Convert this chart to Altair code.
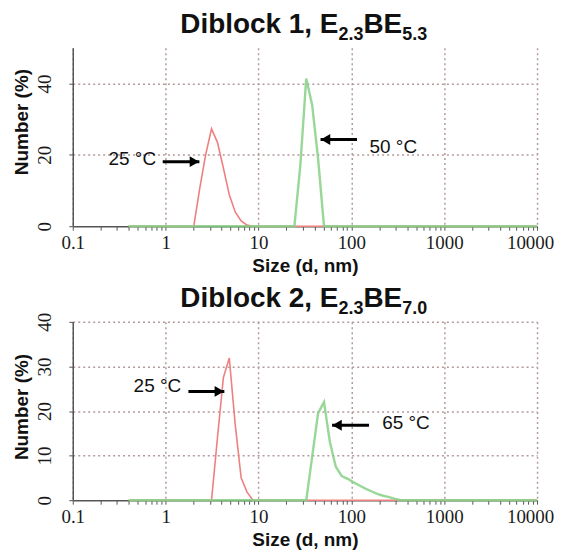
import altair as alt
import pandas as pd

# ---------------- data (size in nm, number in %) ----------------
d1_red_size = [0.4, 2.01, 2.328, 2.696, 3.122, 3.615, 4.187, 4.849, 5.615, 6.503, 7.531, 8.721, 10000]
d1_red_num = [0, 0, 10.5, 20.0, 27.3, 23.5, 16.3, 8.8, 4.0, 1.5, 0.3, 0, 0]
d1_green_size = [0.4, 24.36, 28.21, 32.67, 37.84, 43.82, 50.75, 10000]
d1_green_num = [0, 0, 17.0, 41.4, 34.0, 19.0, 0, 0]

d2_red_size = [0.4, 3.122, 3.615, 4.187, 4.849, 5.615, 6.503, 7.531, 8.721, 10000]
d2_red_num = [0, 0, 14.0, 27.5, 31.9, 17.0, 5.0, 1.8, 0, 0]
d2_green_size = [0.4, 32.67, 37.84, 43.82, 50.75, 58.77, 68.06, 78.82, 91.28, 105.7,
                 122.4, 141.8, 164.2, 190.1, 220.2, 255.0, 295.3, 342.0, 10000]
d2_green_num = [0, 0, 9.7, 19.5, 22.0, 13.0, 7.5, 5.4, 4.8, 4.0,
                3.3, 2.6, 2.0, 1.4, 1.0, 0.7, 0.3, 0, 0]

d1_title = ["Diblock 1, E", "2.3", "BE", "5.3"]
d2_title = ["Diblock 2, E", "2.3", "BE", "7.0"]

# annotations: label text, size, number, alignment ; arrows: start, tip, number
d1_labels = [("25 °C", 0.79, 18.9, "right"), ("50 °C", 157, 22.3, "left")]
d1_arrows = [(0.93, 2.31, 18.1), (115, 46.6, 24.3)]
d2_labels = [("25 °C", 1.47, 25.6, "right"), ("65 °C", 215, 17.2, "left")]
d2_arrows = [(1.76, 4.29, 24.4), (155, 62, 16.8)]

x_major = [0.1, 1, 10, 100, 1000, 10000]
y_max = [50, 40]

# ---------------- styling ----------------
RED = "#ef8080"
GREEN = "#86d086"
W, H = 466, 179
SANS = "Liberation Sans"
SERIF = "Liberation Serif"
MAIN_FS, SUB_FS = 28, 18
TITLE_X0 = 108

BOLD_W = {'D': 722, 'i': 278, 'b': 611, 'l': 278, 'o': 611, 'c': 556, 'k': 556,
          ' ': 278, ',': 278, 'E': 667, 'B': 722, '.': 278}


def text_width(s, fs):
    return sum(BOLD_W.get(ch, 556) for ch in s) * fs / 1000.0


x_ticks = sorted(set(x_major + [round(m * k, 6) for m in x_major[:-1] for k in range(2, 10)]))
MAJ_X = "indexof([0.1, 1, 10, 100, 1000, 10000], datum.value) >= 0"


def x_axis():
    return alt.Axis(
        values=x_ticks,
        title="Size (d, nm)",
        labelExpr=f"{MAJ_X} ? format(datum.value, '~g') : ''",
        labelOverlap=False,
        labelFlush=False,
        labelOffset={"condition": {"test": "datum.value == 10000", "value": -7}, "value": 0},
        gridOpacity={"condition": {"test": MAJ_X, "value": 1}, "value": 0},
        labelPadding=3,
        titlePadding=4,
    )


def y_axis(ymax, title_y):
    return alt.Axis(
        values=list(range(0, ymax + 1, 5)),
        title="Number (%)",
        labelExpr="datum.value % 10 == 0 ? datum.label : ''",
        labelOverlap=False,
        labelFlush=False,
        gridOpacity={"condition": {"test": "datum.value % 10 == 0 && datum.value > 0", "value": 1},
                     "value": 0},
        labelAngle=270,
        labelAlign="center",
        labelBaseline="bottom",
        labelPadding=14,
        titleAngle=270,
        titleBaseline="bottom",
        titleAlign="center",
        titleX=-41,
        titleY=title_y,
    )


def panel(red_x, red_y, green_x, green_y, ymax, title, labels, arrows, title_y):
    red = pd.DataFrame({"size": red_x, "num": red_y})
    green = pd.DataFrame({"size": green_x, "num": green_y})
    xenc = alt.X("size:Q", scale=alt.Scale(type="log", domain=[0.1, 10000], nice=False), axis=x_axis())
    yenc = alt.Y("num:Q", scale=alt.Scale(domain=[0, ymax], nice=False), axis=y_axis(ymax, title_y))

    layers = [
        alt.Chart(red).mark_line(color=RED, strokeWidth=1.6).encode(x=xenc, y=yenc),
        alt.Chart(green).mark_line(color=GREEN, strokeWidth=2.4, opacity=0.85).encode(x="size:Q", y="num:Q"),
    ]

    arr = pd.DataFrame(arrows, columns=["size", "size2", "num"])
    layers.append(alt.Chart(arr).mark_rule(color="black", strokeWidth=3).encode(
        x="size:Q", x2="size2:Q", y="num:Q"))
    right = arr[arr["size2"] > arr["size"]]
    left = arr[arr["size2"] < arr["size"]]
    layers.append(alt.Chart(right).mark_point(shape="triangle-right", filled=True, size=120,
                                              color="black", opacity=1, xOffset=-5).encode(
        x="size2:Q", y="num:Q"))
    layers.append(alt.Chart(left).mark_point(shape="triangle-left", filled=True, size=120,
                                             color="black", opacity=1, xOffset=5).encode(
        x="size2:Q", y="num:Q"))

    for txt, sx, ny, al in labels:
        df = pd.DataFrame({"size": [sx], "num": [ny], "t": [txt]})
        layers.append(alt.Chart(df).mark_text(font=SANS, fontSize=19, color="#111", align=al,
                                              baseline="middle").encode(
            x="size:Q", y="num:Q", text="t:N"))

    # title pieces with subscripts
    xpos = TITLE_X0
    for i, piece in enumerate(title):
        fs = MAIN_FS if i % 2 == 0 else SUB_FS
        yb = -15 if i % 2 == 0 else -8
        df = pd.DataFrame({"t": [piece]})
        layers.append(alt.Chart(df).mark_text(font=SANS, fontWeight="bold", fontSize=fs, color="#111",
                                              align="left", baseline="alphabetic").encode(
            x=alt.value(xpos), y=alt.value(yb), text="t:N"))
        xpos += text_width(piece, fs)

    return alt.layer(*layers).properties(width=W, height=H)


top = panel(d1_red_size, d1_red_num, d1_green_size, d1_green_num, y_max[0], d1_title,
            d1_labels, d1_arrows, 74)
bottom = panel(d2_red_size, d2_red_num, d2_green_size, d2_green_num, y_max[1], d2_title,
               d2_labels, d2_arrows, 85)

chart = alt.vconcat(top, bottom, spacing=10).properties(
    padding={"left": 5, "top": 2, "right": 0, "bottom": 0}
).configure_view(strokeWidth=0).configure_axis(
    domainColor="#555555",
    domainWidth=1.5,
    tickColor="#555555",
    tickSize=4,
    tickWidth=1,
    gridColor="#b39a9a",
    gridDash=[2, 3],
    gridWidth=1.5,
    labelFont=SERIF,
    labelFontSize=19,
    labelColor="#1a1a1a",
    titleFont=SANS,
    titleFontSize=19,
    titleFontWeight="bold",
    titleColor="#111111",
)

chart.save("out.html", embed_options={"renderer": "svg", "actions": False})
